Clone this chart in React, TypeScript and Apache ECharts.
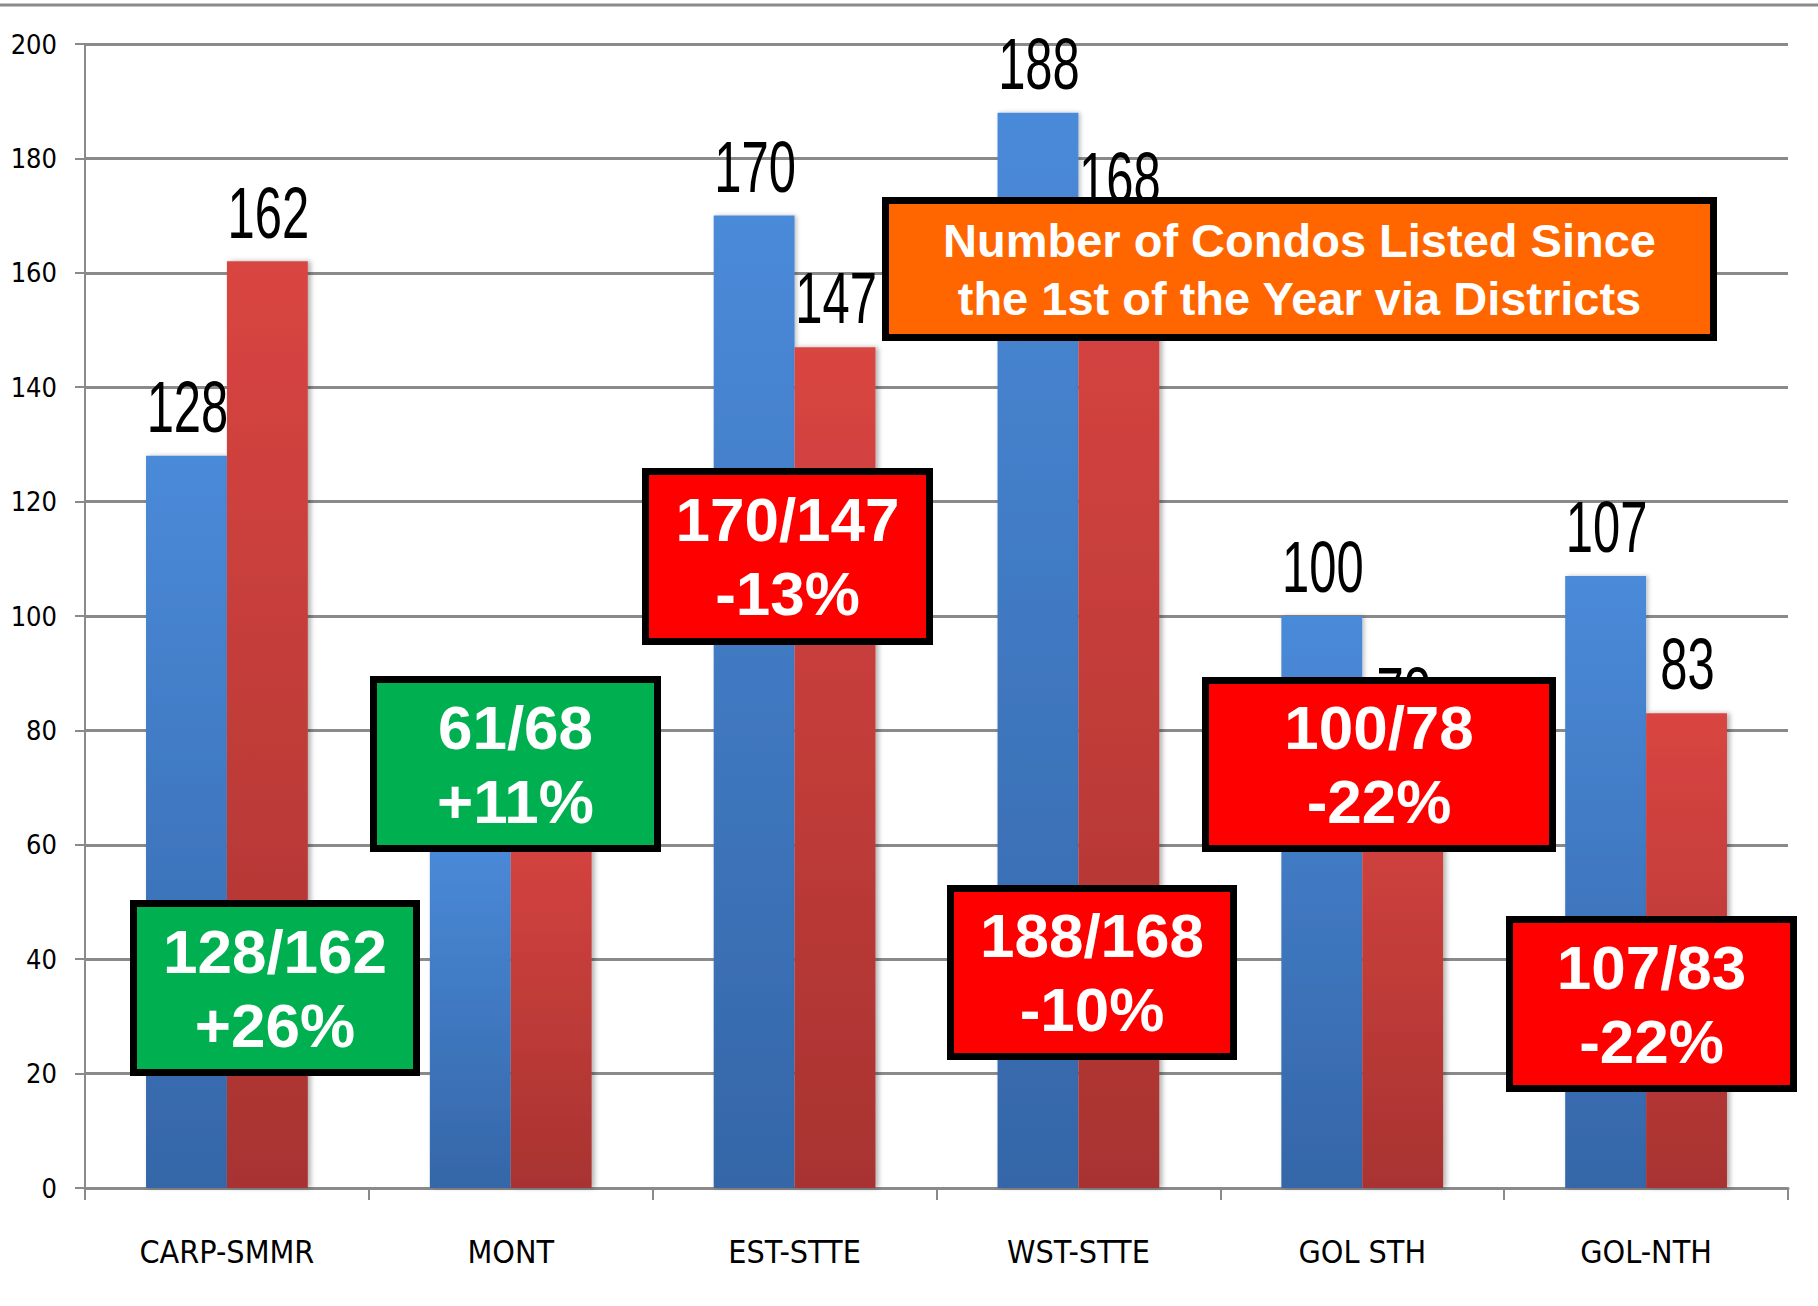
import React, { useEffect, useRef } from "react";
import * as echarts from "echarts";

const categories = ["CARP-SMMR", "MONT", "EST-STTE", "WST-STTE", "GOL STH", "GOL-NTH"];
const blueValues = [128, 61, 170, 188, 100, 107];
const redValues = [162, 68, 147, 168, 78, 83];
const pctLabels = ["+26%", "+11%", "-13%", "-10%", "-22%", "-22%"];
const boxColors = ["#00b050", "#00b050", "#ff0000", "#ff0000", "#ff0000", "#ff0000"];
const yTicks = [0, 20, 40, 60, 80, 100, 120, 140, 160, 180, 200];
const titleLines = ["Number of Condos Listed Since", "the 1st of the Year via Districts"];

// annotation box layout (outer edges, px)
const boxLayout = [
  { x: 130, y: 900, w: 290, h: 176 },
  { x: 370, y: 676, w: 291, h: 176 },
  { x: 642, y: 468, w: 291, h: 177 },
  { x: 947, y: 885, w: 290, h: 175 },
  { x: 1202, y: 677, w: 354, h: 175 },
  { x: 1506, y: 916, w: 291, h: 176 },
];
const titleBox = { x: 882, y: 197, w: 835, h: 144 };

const COND = "'DejaVu Sans Condensed', 'Liberation Sans Narrow', sans-serif";
const SANS = "'Liberation Sans', Arial, sans-serif";
const CAT_GAP = 0.43;

function makeBox(b: { x: number; y: number; w: number; h: number }, fill: string, text: string, fontSize: number, lineHeight: number, bw: number) {
  return {
    type: "group",
    z: 100,
    children: [
      {
        type: "rect",
        shape: { x: b.x + bw / 2, y: b.y + bw / 2, width: b.w - bw, height: b.h - bw },
        style: { fill, stroke: "#000", lineWidth: bw },
        z: 100,
      },
      {
        type: "text",
        x: b.x + b.w / 2,
        y: b.y + b.h / 2,
        z: 101,
        style: {
          text,
          fill: "#fff",
          font: `bold ${fontSize}px ${SANS}`,
          fontSize,
          fontWeight: "bold",
          fontFamily: SANS,
          lineHeight,
          align: "center",
          verticalAlign: "middle",
        },
      },
    ],
  };
}

function barGradient(top: string, bottom: string) {
  return new echarts.graphic.LinearGradient(0, 0, 0, 1, [
    { offset: 0, color: top },
    { offset: 1, color: bottom },
  ]);
}

// value labels drawn narrow and tall, positioned from the chart's own scales
function labelSeries(values: number[], side: number) {
  return {
    type: "custom",
    name: side < 0 ? "blueLabels" : "redLabels",
    data: values.map((v, i) => [i, v]),
    encode: { x: 0, y: 1 },
    z: 5,
    silent: true,
    renderItem: (params: any, api: any) => {
      const idx = api.value(0);
      const val = api.value(1);
      const pt = api.coord([idx, val]);
      const catW = api.size([1, 0])[0];
      const barW = (catW * (1 - CAT_GAP)) / 2;
      return {
        type: "text",
        x: pt[0] + (side * barW) / 2 + 1,
        y: pt[1] - 13,
        scaleX: 0.68,
        style: {
          text: String(val),
          fill: "#000",
          font: `72px ${SANS}`,
          align: "center",
          verticalAlign: "bottom",
        },
      };
    },
  };
}

export default function App() {
  const ref = useRef<HTMLDivElement>(null);
  useEffect(() => {
    if (!ref.current) return;
    const chart = echarts.init(ref.current, null, { renderer: "svg" });
    const graphics: any[] = [
      {
        type: "line",
        shape: { x1: 0, y1: 5, x2: 1818, y2: 5 },
        style: { stroke: "#8a8a8a", lineWidth: 3 },
        z: 50,
      },
    ];
    categories.forEach((_, i) => {
      graphics.push(
        makeBox(boxLayout[i], boxColors[i], `${blueValues[i]}/${redValues[i]}\n${pctLabels[i]}`, 62, 74, 7)
      );
    });
    graphics.push(makeBox(titleBox, "#ff6600", titleLines.join("\n"), 47, 58, 7));

    chart.setOption({
      animation: false,
      backgroundColor: "#fff",
      grid: { left: 85, right: 30, top: 44, bottom: 118, containLabel: false },
      xAxis: {
        type: "category",
        data: categories,
        axisLine: { lineStyle: { color: "#8a8a8a", width: 3 } },
        axisTick: { show: true, length: 12, lineStyle: { color: "#8a8a8a", width: 2 } },
        axisLabel: { color: "#000", fontSize: 32, fontFamily: COND, margin: 48 },
      },
      yAxis: {
        type: "value",
        min: 0,
        max: 200,
        interval: 20,
        axisLine: { show: true, lineStyle: { color: "#8a8a8a", width: 2 } },
        axisTick: { show: true, length: 10, lineStyle: { color: "#8a8a8a", width: 2 } },
        axisLabel: {
          color: "#000",
          fontSize: 27,
          fontFamily: COND,
          margin: 28,
          formatter: (v: number) => (yTicks.includes(v) ? String(v) : ""),
        },
        splitLine: { show: true, lineStyle: { color: "#8a8a8a", width: 3 } },
      },
      series: [
        {
          name: "Previous",
          type: "bar",
          data: blueValues,
          barGap: "0%",
          barCategoryGap: `${CAT_GAP * 100}%`,
          itemStyle: {
            color: barGradient("#4a8ad9", "#3566a8"),
            shadowColor: "rgba(0,0,0,0.25)",
            shadowBlur: 4,
            shadowOffsetX: 2,
          },
          z: 2,
        },
        {
          name: "Current",
          type: "bar",
          data: redValues,
          itemStyle: {
            color: barGradient("#d94541", "#a83331"),
            shadowColor: "rgba(0,0,0,0.3)",
            shadowBlur: 5,
            shadowOffsetX: 3,
          },
          z: 2,
        },
        labelSeries(blueValues, -1),
        labelSeries(redValues, 1),
      ],
      graphic: graphics,
    });
    return () => chart.dispose();
  }, []);
  return (
    <div
      ref={ref}
      style={{ position: "absolute", left: 0, top: 0, width: 1818, height: 1306 }}
    />
  );
}
